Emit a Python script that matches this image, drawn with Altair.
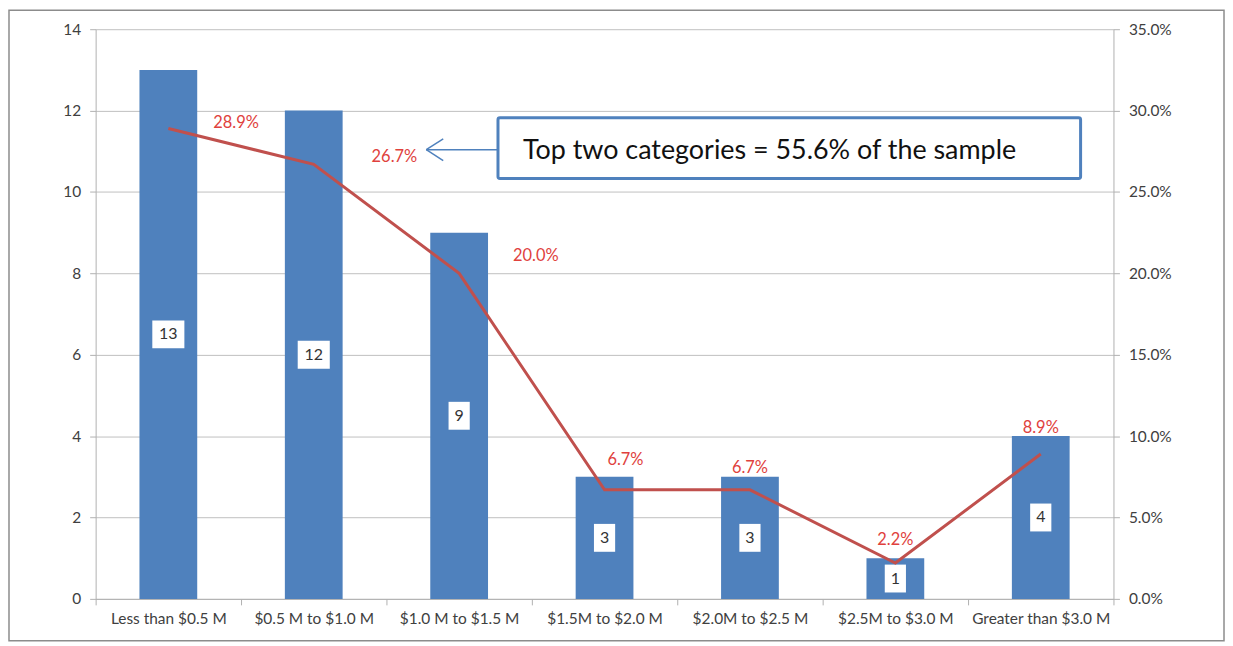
import altair as alt
import pandas as pd

categories = ["Less than $0.5 M", "$0.5 M to $1.0 M", "$1.0 M to $1.5 M",
              "$1.5M to $2.0 M", "$2.0M to $2.5 M", "$2.5M to $3.0 M",
              "Greater than $3.0 M"]
counts = [13, 12, 9, 3, 3, 1, 4]
shares = [0.289, 0.267, 0.200, 0.067, 0.067, 0.022, 0.089]
left_ticks = [0, 2, 4, 6, 8, 10, 12, 14]
right_ticks = [0, 0.05, 0.10, 0.15, 0.20, 0.25, 0.30, 0.35]
note = "Top two categories = 55.6% of the sample"

df = pd.DataFrame({"cat": categories, "count": counts, "share": shares})

FONT = "Lato"
BLUE = "#4f81bd"
RED = "#c0504d"
LABEL_RED = "#e0413d"
GRID = "#bfbfbf"
TXT = "#404040"
AXIS = "#b0b0b0"

W, H = 1022, 572

x_enc = alt.X("cat:N", sort=categories, title=None,
              scale=alt.Scale(paddingInner=0, paddingOuter=0),
              axis=alt.Axis(labelAngle=0, labelFont=FONT, labelFontSize=15.5,
                            labelColor=TXT, domainColor=AXIS,
                            tickColor=AXIS, tickSize=6, labelPadding=7,
                            tickBand="extent", grid=False))

y_left = alt.Y("count:Q", title=None,
               scale=alt.Scale(domain=[0, 14], nice=False),
               axis=alt.Axis(values=left_ticks, format="d", labelFont=FONT,
                             labelFontSize=15.5, labelColor=TXT,
                             domainColor=AXIS, tickColor=AXIS,
                             tickSize=6, labelPadding=9, grid=True,
                             gridColor=GRID, orient="left"))

base = alt.Chart(df)

bars = base.mark_bar(width=58, color=BLUE).encode(x=x_enc, y=y_left)

box_wide = "M-1.15,-1L1.15,-1L1.15,1L-1.15,1Z"
box_narrow = "M-0.76,-1L0.76,-1L0.76,1L-0.76,1Z"

boxes = base.transform_calculate(half="datum.count / 2").mark_point(
    filled=True, fill="white", opacity=1, size=784, strokeWidth=0
).encode(
    x=alt.X("cat:N", sort=categories),
    y=alt.Y("half:Q"),
    shape=alt.condition(alt.datum.count >= 10, alt.value(box_wide), alt.value(box_narrow)),
)

count_text = base.transform_calculate(half="datum.count / 2").mark_text(
    font=FONT, fontSize=16, color="#333333", baseline="middle", align="center"
).encode(
    x=alt.X("cat:N", sort=categories),
    y=alt.Y("half:Q"),
    text=alt.Text("count:Q"),
)

left_layer = alt.layer(bars, boxes, count_text)

y_right = alt.Y("share:Q", title=None,
                scale=alt.Scale(domain=[0, 0.35], nice=False),
                axis=alt.Axis(values=right_ticks, format=".1%", labelFont=FONT,
                              labelFontSize=15.5, labelColor=TXT,
                              domainColor=AXIS, tickColor=AXIS,
                              tickSize=6, labelPadding=9, grid=False,
                              orient="right"))

line = base.mark_line(color=RED, strokeWidth=3).encode(
    x=alt.X("cat:N", sort=categories), y=y_right)

label_offsets = [(68, -6), (81, -7), (77, -17), (21, -30), (0, -22), (0, -23), (0, -26)]
pct_layers = []
for i, (dx, dy) in enumerate(label_offsets):
    pct_layers.append(
        base.transform_filter(alt.datum.cat == categories[i]).mark_text(
            font=FONT, fontSize=16.5, color=LABEL_RED, dx=dx, dy=dy,
            align="center", baseline="middle"
        ).encode(
            x=alt.X("cat:N", sort=categories),
            y=alt.Y("share:Q"),
            text=alt.Text("share:Q", format=".1%"),
        )
    )

right_layer = alt.layer(line, *pct_layers)

ann = alt.Chart(pd.DataFrame({"t": [note]}))
note_box = ann.mark_rect(fill="white", stroke=BLUE, strokeWidth=3, cornerRadius=2).encode(
    x=alt.value(404), x2=alt.value(989), y=alt.value(89), y2=alt.value(150))
note_text = ann.mark_text(font=FONT, fontSize=27, color="#111111", align="left",
                          baseline="middle").encode(
    x=alt.value(429), y=alt.value(122), text="t:N")
arrow_shaft = ann.mark_rule(color=BLUE, strokeWidth=1.5).encode(
    x=alt.value(332), x2=alt.value(404), y=alt.value(121), y2=alt.value(121))
arrow_up = ann.mark_rule(color=BLUE, strokeWidth=1.5).encode(
    x=alt.value(332), x2=alt.value(349), y=alt.value(121), y2=alt.value(110))
arrow_dn = ann.mark_rule(color=BLUE, strokeWidth=1.5).encode(
    x=alt.value(332), x2=alt.value(349), y=alt.value(121), y2=alt.value(132))
frame = ann.mark_rect(filled=False, stroke="#8c8c8c", strokeWidth=1.5).encode(
    x=alt.value(-87), x2=alt.value(1133), y=alt.value(-19), y2=alt.value(614))

chart = alt.layer(
    frame, left_layer, right_layer, note_box, note_text, arrow_shaft, arrow_up, arrow_dn
).resolve_scale(y="independent").properties(
    width=W, height=H,
    autosize=alt.AutoSizeParams(type="none"),
    padding={"left": 88, "top": 20, "right": 112, "bottom": 43},
    background="white",
).configure_view(strokeWidth=0)

chart.save("out.html", embed_options={"renderer": "svg", "actions": False})
